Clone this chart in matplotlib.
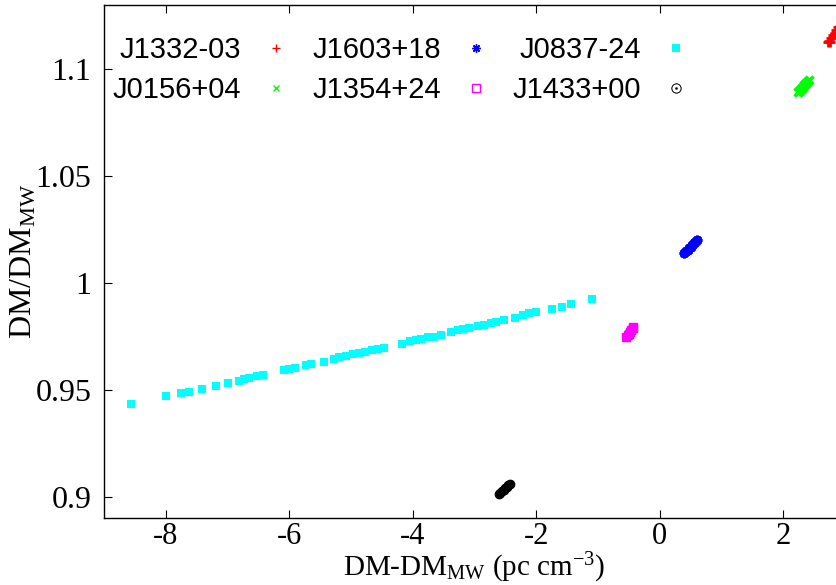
import matplotlib
matplotlib.use("Agg")
import matplotlib.pyplot as plt
from matplotlib.lines import Line2D

plt.rcParams['font.family'] = ['Liberation Serif', 'DejaVu Serif']
plt.rcParams['mathtext.fontset'] = 'custom'
plt.rcParams['mathtext.rm'] = 'Liberation Serif'
plt.rcParams['mathtext.it'] = 'Liberation Serif:italic'

# J1332-03 (rood, +)
j1332_x = [2.72, 2.74, 2.76, 2.78, 2.80, 2.83, 2.86, 2.89, 2.93, 2.97]
j1332_y = [1.1125, 1.1132, 1.1128, 1.1145, 1.1158, 1.1170, 1.1182, 1.1195, 1.1210, 1.1224]
# J0156+04 (groen, x)
j0156_x = [2.24, 2.26, 2.28, 2.30, 2.32, 2.34, 2.36, 2.38, 2.41]
j0156_y = [1.0892, 1.0898, 1.0905, 1.0911, 1.0918, 1.0925, 1.0932, 1.0940, 1.0950]
# J1603+18 (blauw, *)
j1603_x = [0.40, 0.42, 0.45, 0.47, 0.50, 0.52, 0.55, 0.57, 0.60]
j1603_y = [1.0140, 1.0148, 1.0155, 1.0163, 1.0170, 1.0178, 1.0185, 1.0193, 1.0200]
# J1354+24 (magenta, open vierkant)
j1354_x = [-0.55, -0.52, -0.50, -0.48, -0.46, -0.44, -0.43]
j1354_y = [0.9745, 0.9755, 0.9763, 0.9771, 0.9779, 0.9787, 0.9793]
# J0837-24 (cyaan, gevuld vierkant)
j0837_x = [-8.56, -7.99, -7.75, -7.63, -7.41, -7.18, -6.99, -6.82, -6.74, -6.65,
           -6.52, -6.42, -6.09, -6.00, -5.90, -5.73, -5.65, -5.44, -5.28, -5.20,
           -5.08, -4.96, -4.87, -4.78, -4.66, -4.57, -4.46, -4.17, -4.05, -3.94,
           -3.86, -3.76, -3.67, -3.55, -3.38, -3.27, -3.19, -3.09, -2.94, -2.84,
           -2.74, -2.65, -2.53, -2.35, -2.22, -2.11, -2.00, -1.75, -1.59, -1.43,
           -1.09]
j0837_y = [0.9435, 0.9473, 0.9486, 0.9491, 0.9505, 0.9519, 0.9533, 0.9542, 0.9551, 0.9557,
           0.9565, 0.9570, 0.9592, 0.9598, 0.9603, 0.9615, 0.9621, 0.9632, 0.9646, 0.9651,
           0.9659, 0.9665, 0.9670, 0.9676, 0.9686, 0.9690, 0.9695, 0.9715, 0.9728, 0.9732,
           0.9738, 0.9746, 0.9749, 0.9756, 0.9772, 0.9779, 0.9785, 0.9790, 0.9799, 0.9805,
           0.9812, 0.9816, 0.9826, 0.9838, 0.9850, 0.9857, 0.9863, 0.9880, 0.9889, 0.9902,
           0.9925]
# J1433+00 (zwart, cirkel)
j1433_x = [-2.61, -2.58, -2.56, -2.53, -2.50, -2.48, -2.45, -2.43]
j1433_y = [0.9010, 0.9018, 0.9025, 0.9032, 0.9039, 0.9046, 0.9053, 0.9060]

namen = ['J1332-03', 'J0156+04', 'J1603+18', 'J1354+24', 'J0837-24', 'J1433+00']
x_ticks = [-8, -6, -4, -2, 0, 2]
x_labels = ['-8', '-6', '-4', '-2', '0', '2']
y_ticks = [0.9, 0.95, 1.0, 1.05, 1.1]
y_labels = ['0.9', '0.95', '1', '1.05', '1.1']

fig = plt.figure(figsize=(8.37, 5.85), dpi=100)
ax = fig.add_axes([104 / 837, 1 - 518 / 585, 741 / 837, 513 / 585])

asterisk = (8, 2, 0)
ax.plot(j1332_x, j1332_y, ls='none', marker='+', color='#ff0000', ms=7, mew=2)
ax.plot(j0156_x, j0156_y, ls='none', marker='x', color='#00ff00', ms=6, mew=2.5)
ax.plot(j1603_x, j1603_y, ls='none', marker=asterisk, color='#0000ff', ms=7, mew=2)
ax.plot(j1354_x, j1354_y, ls='none', marker='s', color='#ff00ff', mfc='#ff00ff', ms=6)
ax.plot(j0837_x, j0837_y, ls='none', marker='s', color='#00ffff', ms=5.5, mew=0)
ax.plot(j1433_x, j1433_y, ls='none', marker='o', color='black', ms=6)

handles = [
    Line2D([], [], ls='none', marker='+', color='#ff0000', ms=6, mew=1),
    Line2D([], [], ls='none', marker='x', color='#00ff00', ms=5, mew=1),
    Line2D([], [], ls='none', marker=asterisk, color='#0000ff', ms=6, mew=1),
    Line2D([], [], ls='none', marker='s', color='#ff00ff', mfc='none', ms=6, mew=1),
    Line2D([], [], ls='none', marker='s', color='#00ffff', ms=6, mew=0),
    Line2D([], [], ls='none', marker='$\\odot$', color='black', ms=7, mew=0.3),
]
ax.legend(handles, namen, ncol=3, loc='upper left', bbox_to_anchor=(0.011, 0.94),
          frameon=False, markerfirst=False, borderpad=0, borderaxespad=0,
          handlelength=1.0, handletextpad=0.7, columnspacing=0.75, labelspacing=0.42,
          prop={'family': 'Liberation Sans', 'size': 21})

ax.set_xlim(-9, 3)
ax.set_ylim(0.89, 1.13)
ax.set_xticks(x_ticks)
ax.set_xticklabels(x_labels)
ax.set_yticks(y_ticks)
ax.set_yticklabels(y_labels)
ax.tick_params(direction='in', length=6, width=0.8, labelsize=23, top=True, right=True)
ax.tick_params(axis='x', pad=3, labelsize=22)
ax.tick_params(axis='y', pad=9)
for s in ax.spines.values():
    s.set_linewidth(1.0)

ax.set_xlabel(r'DM-DM$_{\mathrm{MW}}$ (pc cm$^{\mathrm{-3}}$)', fontsize=21)
ax.xaxis.set_label_coords(0.5, -0.1305)
ax.xaxis.label.set_va('bottom')
ax.set_ylabel(r'DM/DM$_{\mathrm{MW}}$', fontsize=23, labelpad=-2)

fig.savefig('out.png', dpi=100)
